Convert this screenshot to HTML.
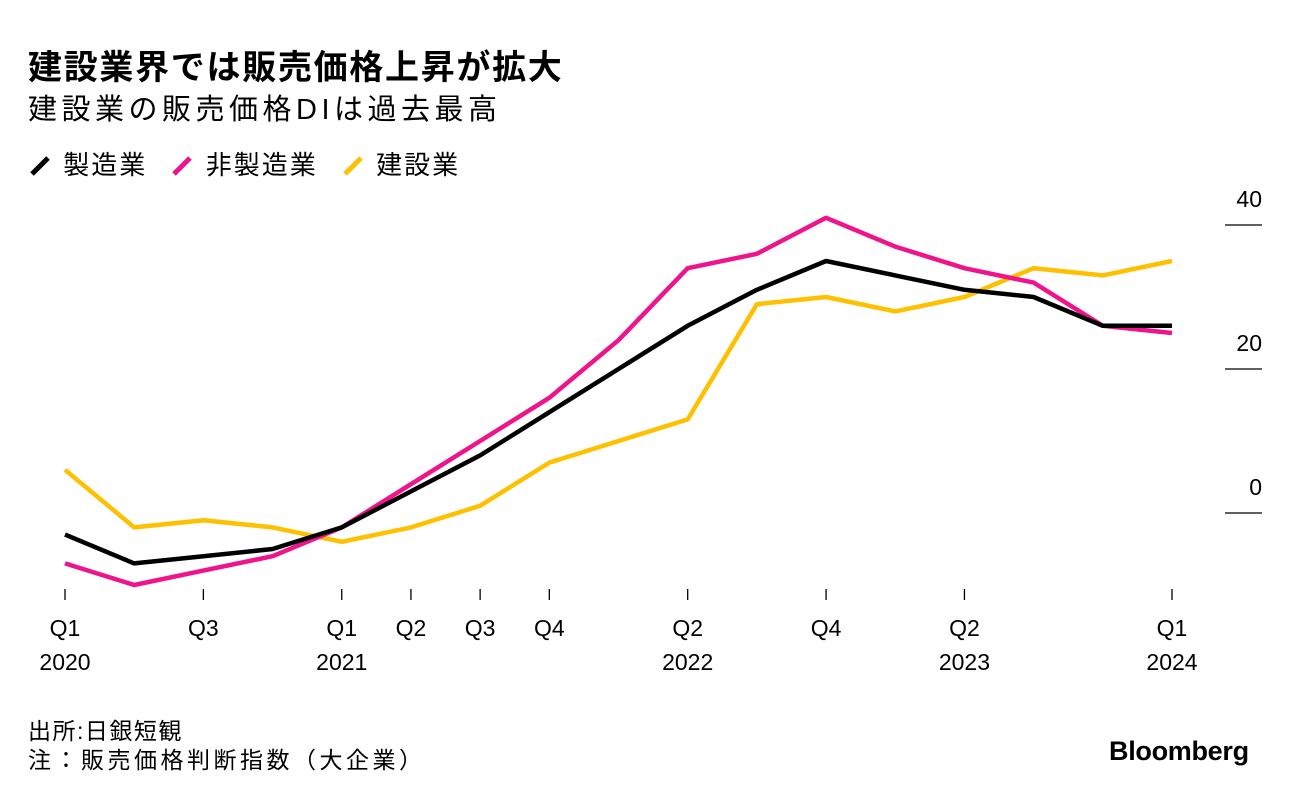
<!DOCTYPE html>
<html><head><meta charset="utf-8"><style>
body{margin:0;background:#fff;font-family:"Liberation Sans","Noto Sans CJK JP",sans-serif;}
#wrap{position:relative;width:1289px;height:798px;overflow:hidden;}
.t{position:absolute;white-space:nowrap;color:#000;}
</style></head><body><div id="wrap">
<div class="t" style="left:28px;top:40px;font-size:34px;font-weight:bold;letter-spacing:1.7px;">建設業界では販売価格上昇が拡大</div>
<div class="t" style="left:28px;top:86px;font-size:29px;letter-spacing:4.5px;">建設業の販売価格DIは過去最高</div>
<div class="t" style="left:28px;top:145px;font-size:26px;letter-spacing:2px;">
<span><svg width="26" height="24" style="vertical-align:-3px"><line x1="4" y1="21" x2="20" y2="5" stroke="#000" stroke-width="5"/></svg> 製造業</span>
<span style="margin-left:14px"><svg width="26" height="24" style="vertical-align:-3px"><line x1="4" y1="21" x2="20" y2="5" stroke="#f0148c" stroke-width="5"/></svg> 非製造業</span>
<span style="margin-left:14px"><svg width="26" height="24" style="vertical-align:-3px"><line x1="4" y1="21" x2="20" y2="5" stroke="#ffc000" stroke-width="5"/></svg> 建設業</span>
</div>
<svg id="plot" width="1289" height="798" style="position:absolute;left:0;top:0"></svg>
<div class="t" style="left:28px;top:712px;font-size:23px;letter-spacing:1.5px;">出所:日銀短観</div>
<div class="t" style="left:28px;top:741px;font-size:23px;letter-spacing:3.5px;">注：販売価格判断指数（大企業）</div>
<div class="t" style="left:1109px;top:736px;font-size:27px;font-weight:bold;letter-spacing:-0.3px;">Bloomberg</div>
</div>
<script>
const manufacturing=[-3,-7,-6,-5,-2,3,8,14,20,26,31,35,33,31,30,26,26];
const nonManufacturing=[-7,-10,-8,-6,-2,4,10,16,24,34,36,41,37,34,32,26,25];
const construction=[6,-2,-1,-2,-4,-2,1,7,10,13,29,30,28,30,34,33,35];
const yTicks=[0,20,40];
const xTickIdx=[0,2,4,5,6,7,9,11,13,16];
const xTickTop=["Q1","Q3","Q1","Q2","Q3","Q4","Q2","Q4","Q2","Q1"];
const xTickBottom=["2020","","2021","","","","2022","","2023","2024"];
const NS="http://www.w3.org/2000/svg";
const svg=document.getElementById('plot');
const x=i=>65+i*(1172-65)/16;
const y=v=>513-v*7.2;
function mk(t,a){const e=document.createElementNS(NS,t);for(const k in a)e.setAttribute(k,a[k]);svg.appendChild(e);return e;}
yTicks.forEach(v=>{
 const l=mk('line',{x1:1225,x2:1262,y1:y(v),y2:y(v),stroke:'#000','stroke-width':1.3});
 
 
 const t=mk('text',{x:1262,y:y(v)-18,'text-anchor':'end','font-size':23,'font-family':'Liberation Sans, sans-serif'});
 t.textContent=v;
 
 
});
xTickIdx.forEach((i,k)=>{
 const l=mk('line',{x1:x(i),x2:x(i),y1:589,y2:600,stroke:'#000','stroke-width':1.3});
 
 
 const t=mk('text',{x:x(i),y:636,'text-anchor':'middle','font-size':23,'font-family':'Liberation Sans, sans-serif'});
 t.textContent=xTickTop[k];
 
 
 if(xTickBottom[k]){const b=mk('text',{x:x(i),y:670,'text-anchor':'middle','font-size':23,'font-family':'Liberation Sans, sans-serif'});
 b.textContent=xTickBottom[k];
 
 }
});
function line(d,c,n){const p=mk('polyline',{points:d.map((v,i)=>x(i)+','+y(v)).join(' '),fill:'none',stroke:c,'stroke-width':4.5,'stroke-linejoin':'round'});
 
 }
line(construction,'#ffc000','line-construction');
line(nonManufacturing,'#f0148c','line-nonmanufacturing');
line(manufacturing,'#000','line-manufacturing');
</script></body></html>
